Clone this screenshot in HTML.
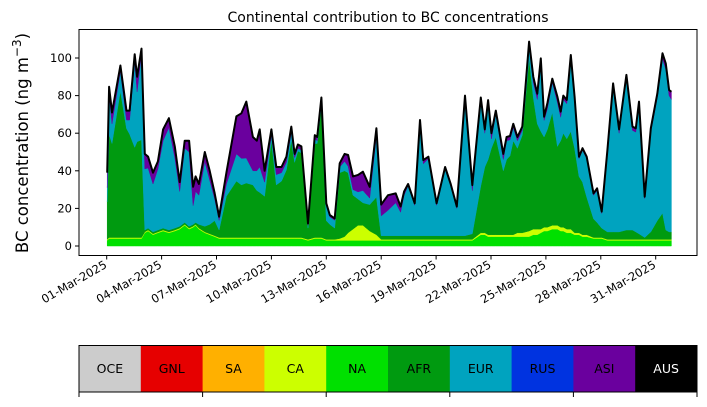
<!DOCTYPE html>
<html><head><meta charset="utf-8"><style>
body{margin:0;background:#fff;font-family:"Liberation Sans","DejaVu Sans",sans-serif}
svg text{font-family:"DejaVu Sans","Liberation Sans",sans-serif}
</style></head><body>
<svg id="chart" width="707" height="402" xmlns="http://www.w3.org/2000/svg">
<rect width="707" height="402" fill="#fff"/>
<g id="areas"></g>
<g id="axes"></g>
<g id="cbar"></g>
</svg>
<script>
const times=[0.03,0.13,0.29,0.75,1.08,1.25,1.53,1.66,1.9,2.08,2.26,2.53,2.8,3.08,3.4,3.72,3.99,4.26,4.5,4.72,4.86,5.04,5.36,5.63,5.9,6.14,6.54,7.09,7.36,7.63,7.99,8.2,8.36,8.63,9.0,9.27,9.55,9.82,10.09,10.27,10.45,10.64,11.0,11.37,11.5,11.73,12.0,12.19,12.46,12.73,13.0,13.19,13.46,13.73,14.0,14.37,14.74,15.0,15.37,15.79,16.06,16.25,16.47,16.83,17.12,17.3,17.58,18.03,18.49,18.8,19.13,19.58,19.98,20.44,20.66,20.84,21.02,21.26,21.67,21.85,22.04,22.22,22.44,22.71,23.08,23.31,23.53,23.72,23.9,24.08,24.35,24.63,24.81,24.95,25.14,25.36,25.57,25.81,26.0,26.23,26.6,26.8,27.05,27.36,27.67,28.0,28.4,28.73,28.91,29.09,29.4,29.73,30.09,30.37,30.55,30.73,30.86];
const naVals=[3,4,4,4,4,4,4,4,4,7,8,6,7,8,7,8,9,11,9,10,11,9,7,6,5,4,4,4,4,4,4,4,4,4,4,4,4,4,4,4,4,4,3,4,4,4,3,3,3,3,3,3,3,3,3,3,3,3,3,3,3,3,3,3,3,3,3,3,3,3,3,3,3,6,6,5,5,5,5,5,5,5,5,5,5,6,6,7,8,8,9,9,8,8,7,7,6,6,5,5,4,4,4,3,3,3,3,3,3,3,3,3,3,3,3,3,3];
const caVals=[0.5,0.5,0.5,0.5,0.5,0.5,0.5,0.5,0.5,0.5,0.5,0.5,0.5,0.5,0.5,0.5,0.5,0.5,0.5,0.5,0.5,0.5,0.5,0.5,0.5,0.5,0.5,0.5,0.5,0.5,0.5,0.5,0.5,0.5,0.5,0.5,0.5,0.5,0.5,0.5,0.5,0.5,0.5,0.5,0.5,0.5,0.5,0.5,0.5,1,2,4,6,8,8,5,3,0.5,0.5,0.5,0.5,0.5,0.5,0.5,0.5,0.5,0.5,0.5,0.5,0.5,0.5,0.5,0.5,1,1,1,1,1,1,1,1,1,2,2,3,3,3,2,2,2,2,2,2,2,2,2,1,1,1,1,0.5,0.5,0.5,0.5,0.5,0.5,0.5,0.5,0.5,0.5,0.5,0.5,0.5,0.5,0.5,0.5,0.5];
const afrVals=[20,55,50,78,58,55,48,51,52,1,1,1,1,1,1,1,1,1,1,1,1,2,3,5,8,4,22,30,28,29,28,25,24,22,52,28,30,36,52,40,46,45,6,50,50,70,10,8,6,35,35,32,18,14,12,14,20,2,2,2,2,2,2,2,2,2,2,2,2,2,2,2,3,25,35,40,46,52,34,40,42,50,45,52,92,70,56,52,48,52,60,42,46,50,48,52,45,30,28,20,10,8,5,4,4,4,5,5,4,3,1,4,10,14,5,4,4];
const eurVals=[7.5,21.2,10.5,10.5,4.5,7.5,45.5,26.5,45.5,32.5,32,25.5,32.5,46.5,54.5,37.5,18.5,39.5,39.5,10,16.5,15.5,34.5,23.5,11.5,5.1,6.5,14.5,14.1,13.3,7.5,10.5,13.5,7.5,2.5,5.5,4.5,4,4,2.5,1.5,1.5,1.5,2.5,1.5,2.5,8.2,4,4.2,3,5,3.4,3,3.8,6.5,3.5,32.6,10.5,13.5,17.5,12.5,21.5,26.5,16.2,60.5,38.2,41,16.2,35.5,26.5,14.5,73.5,22.9,45,18,29.6,5,12,6,10,8.5,7,4,2.5,6.7,8,13,36.8,8.8,11,16,23.4,12.5,18,18.7,38.6,25.4,9.5,17,20.5,12.5,17.2,7.8,42.5,78,52.5,81.5,53,53.1,69.3,20.7,53.1,65.5,82,85.5,72.5,70.5];
const asiVals=[8,4,6,3,5,5,4,8,3,8,6,6,4,6,5,6,5,4,6,10,8,6,5,5,3,2,6,20,24,30,18,16,20,6,3,4,3,3,3,2,2,2,1,2,2,2,1,1,1,2,4,6,7,9,10,6,4,6,8,5,3,2,1,1,1,2,1,1,1,1,1,1,3,2,2,2,3,2,3,2,2,2,2,2,2,3,3,2,2,3,2,3,3,2,2,2,2,1,1,1,1,1,1,1,1,2,1,2,2,1,1,2,2,3,3,3,4];
const seriesNames=["NA","CA","AFR","EUR","ASI"];
const xTickLabels=["01-Mar-2025","04-Mar-2025","07-Mar-2025","10-Mar-2025","13-Mar-2025","16-Mar-2025","19-Mar-2025","22-Mar-2025","25-Mar-2025","28-Mar-2025","31-Mar-2025"];
const xTickDays=[0,3,6,9,12,15,18,21,24,27,30];
const yTicks=[0,20,40,60,80,100];
const legendNames=["OCE","GNL","SA","CA","NA","AFR","EUR","RUS","ASI","AUS"];

const NS="http://www.w3.org/2000/svg";
const X=d=>106.7+d*18.3;
const Y=v=>246-v*1.88;
function mk(tag,attrs,parent){const e=document.createElementNS(NS,tag);for(const k in attrs)e.setAttribute(k,attrs[k]);parent.appendChild(e);return e;}
const colors={OCE:"#cccccc",GNL:"#e60000",SA:"#ffb000",CA:"#ccff00",NA:"#00e000",AFR:"#009a10",EUR:"#00a3bf",RUS:"#0033e0",ASI:"#6a009e",AUS:"#000000"};
const stackVals=[naVals,caVals,afrVals,eurVals,asiVals];
const areas=document.getElementById('areas');
let base=times.map(()=>0);
stackVals.forEach((vals,si)=>{
  const top=base.map((b,i)=>b+vals[i]);
  let d="M"+times.map((t,i)=>X(t).toFixed(1)+","+Y(top[i]).toFixed(1)).join("L");
  for(let i=times.length-1;i>=0;i--)d+="L"+X(times[i]).toFixed(1)+","+Y(base[i]).toFixed(1);
  const p=mk('path',{d:d+"Z",fill:colors[seriesNames[si]],stroke:colors[seriesNames[si]],'stroke-width':0.5},areas);
  
  
  base=top;
});
const tl=mk('path',{d:"M"+times.map((t,i)=>X(t).toFixed(1)+","+Y(base[i]).toFixed(1)).join("L"),fill:"none",stroke:"#000",'stroke-width':2,'stroke-linejoin':'round'},areas);



const ax=document.getElementById('axes');
const fr=mk('rect',{x:79,y:29.5,width:618,height:226,fill:"none",stroke:"#000",'stroke-width':1},ax);


yTicks.forEach(v=>{
  mk('line',{x1:75,x2:79,y1:Y(v),y2:Y(v),stroke:"#000"},ax);
  const t=mk('text',{x:72,y:Y(v)+4,'text-anchor':'end','font-size':11.5},ax);t.textContent=v;
  
  
});
xTickDays.forEach((d,i)=>{
  mk('line',{x1:X(d),x2:X(d),y1:255.5,y2:259.5,stroke:"#000"},ax);
  const t=mk('text',{x:X(d)+1,y:267,'text-anchor':'end','font-size':11.5,transform:`rotate(-30 ${X(d)+1} 267)`},ax);t.textContent=xTickLabels[i];
  
  
});
const ti=mk('text',{x:388,y:22,'text-anchor':'middle','font-size':14},ax);ti.textContent="Continental contribution to BC concentrations";


const yl=mk('text',{x:28,y:143,'text-anchor':'middle','font-size':16.5,transform:'rotate(-90 28 143)'},ax);
yl.innerHTML='BC concentration (ng m<tspan dy="-7" font-size="12">−3</tspan><tspan dy="7">)</tspan>';



const cb=document.getElementById('cbar');
const cw=61.8;
legendNames.forEach((n,i)=>{
  const r=mk('rect',{x:79+i*cw,y:345.5,width:cw+0.5,height:46.5,fill:colors[n]},cb);
  
  
  const t=mk('text',{x:79+i*cw+cw/2,y:373,'text-anchor':'middle','font-size':12.5,fill:n==="AUS"?"#fff":"#000"},cb);t.textContent=n;
  
  
});
mk('rect',{x:79,y:345.5,width:618,height:46.5,fill:"none",stroke:"#000"},cb);
for(let k=0;k<=5;k++)mk('line',{x1:79+k*2*cw,x2:79+k*2*cw,y1:392,y2:397,stroke:"#000"},cb);
</script>
</body></html>
